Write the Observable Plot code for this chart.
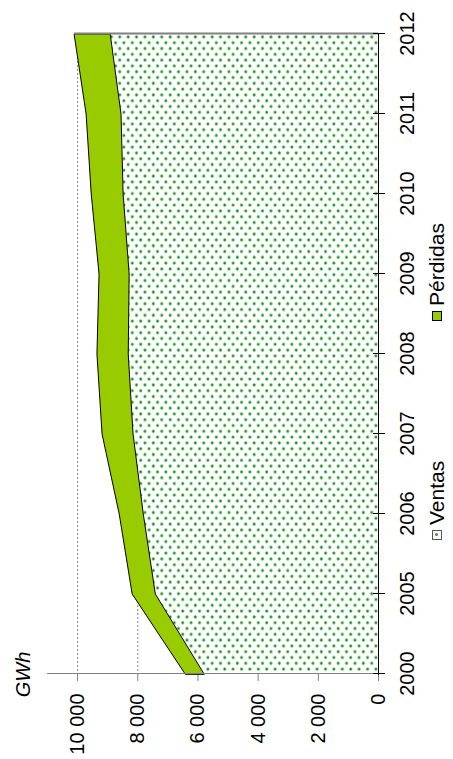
<!DOCTYPE html>
<html>
<head>
<meta charset="utf-8">
<script src="https://cdn.jsdelivr.net/npm/d3@7"></script>
<script src="https://cdn.jsdelivr.net/npm/@observablehq/plot@0.6"></script>
<style>
  html, body { margin: 0; padding: 0; background: #fff; }
  body { width: 453px; height: 759px; overflow: hidden; position: relative; font-family: "Liberation Sans", Arial, sans-serif; }
  #rot { position: absolute; left: 0; top: 0; width: 759px; height: 453px; transform-origin: 0 0; transform: translate(0, 759px) rotate(-90deg); }
  #legend { position: absolute; left: 0; top: 420px; width: 759px; height: 33px; font-size: 21px; color: #000; }
  .item { position: absolute; top: 0; display: flex; align-items: center; height: 33px; white-space: nowrap; }
  .sw { width: 10px; height: 10px; margin-right: 5px; box-sizing: border-box; }
</style>
</head>
<body>
<div id="rot"><div id="chart"></div><div id="legend"></div></div>
<script>
const years = ["2000", "2005", "2006", "2007", "2008", "2009", "2010", "2011", "2012"];
const ventas = [5780, 7400, 7800, 8140, 8300, 8270, 8470, 8540, 8900];
const perdidas = [630, 770, 800, 1030, 1040, 1000, 1060, 1160, 1200];
const valueTicks = [0, 2000, 4000, 6000, 8000, 10000];
const seriesNames = ["Ventas", "Pérdidas"];
const unitLabel = "GWh";

const rows = years.map((year, i) => ({year, ventas: ventas[i], perdidas: perdidas[i], total: ventas[i] + perdidas[i]}));
const fmt = d => d3.format(",")(d).replace(/,/g, " ");
const gray = "#808080";

const chart = Plot.plot({
  width: 759,
  height: 420,
  marginLeft: 84,
  marginRight: 34,
  marginTop: 47,
  marginBottom: 42,
  style: {fontFamily: "Liberation Sans, Arial, sans-serif", fontSize: "20px", color: "#000", background: "transparent"},
  x: {type: "point", domain: years, padding: 0},
  y: {domain: [0, 11000]},
  marks: [
    Plot.gridY(valueTicks.filter(d => d > 0), {stroke: gray, strokeOpacity: 1, strokeDasharray: "2,2"}),
    Plot.areaY(rows, {x: "year", y1: 0, y2: "ventas", fill: "url(#dots)", curve: "linear"}),
    Plot.areaY(rows, {x: "year", y1: "ventas", y2: "total", fill: "#99cc00", stroke: "#000", strokeWidth: 1, curve: "linear"}),
    Plot.ruleX(rows.slice(-1), {x: "year", y1: 0, y2: "total", stroke: gray, strokeWidth: 2}),
    Plot.ruleX(years.slice(0, 1), {stroke: gray}),
    Plot.ruleY([0], {stroke: "#000"}),
    Plot.axisY({ticks: valueTicks, tickFormat: fmt, tickSize: 6, tickPadding: 13, stroke: gray, fill: "#000", label: null}),
    Plot.axisX({tickSize: 7, tickPadding: 14, stroke: "#000", fill: "#000", label: null}),
    Plot.axisX({tickSize: -5, tickFormat: () => "", stroke: "#000", label: null}),
    Plot.text([unitLabel], {frameAnchor: "top-left", textAnchor: "middle", lineAnchor: "bottom", dy: -18, fontStyle: "italic", fill: "#000"})
  ]
});

const defs = `<defs><pattern id="dots" patternUnits="userSpaceOnUse" width="11.6" height="8.4">
<rect width="11.6" height="8.4" fill="#fff"/>
<circle cx="2.9" cy="2.1" r="1.7" fill="#6cc06c"/><circle cx="2.9" cy="2.1" r="1.05" fill="#0a8a1a"/>
<circle cx="8.7" cy="6.3" r="1.7" fill="#6cc06c"/><circle cx="8.7" cy="6.3" r="1.05" fill="#0a8a1a"/>
</pattern></defs>`;
chart.insertAdjacentHTML("afterbegin", defs);
document.getElementById("chart").appendChild(chart);

const legend = document.getElementById("legend");
const swatches = [
  `<div class="sw" style="border:1px solid #555;background:#fff;display:flex;align-items:center;justify-content:center"><div style="width:3px;height:3px;background:#2a9a3a;border-radius:50%"></div></div>`,
  `<div class="sw" style="border:1px solid #000;background:#99cc00"></div>`
];
const lefts = [219, 438];
seriesNames.forEach((name, i) => {
  const item = document.createElement("div");
  item.className = "item";
  item.style.left = lefts[i] + "px";
  item.innerHTML = swatches[i] + `<span>${name}</span>`;
  legend.appendChild(item);
});
</script>
</body>
</html>
